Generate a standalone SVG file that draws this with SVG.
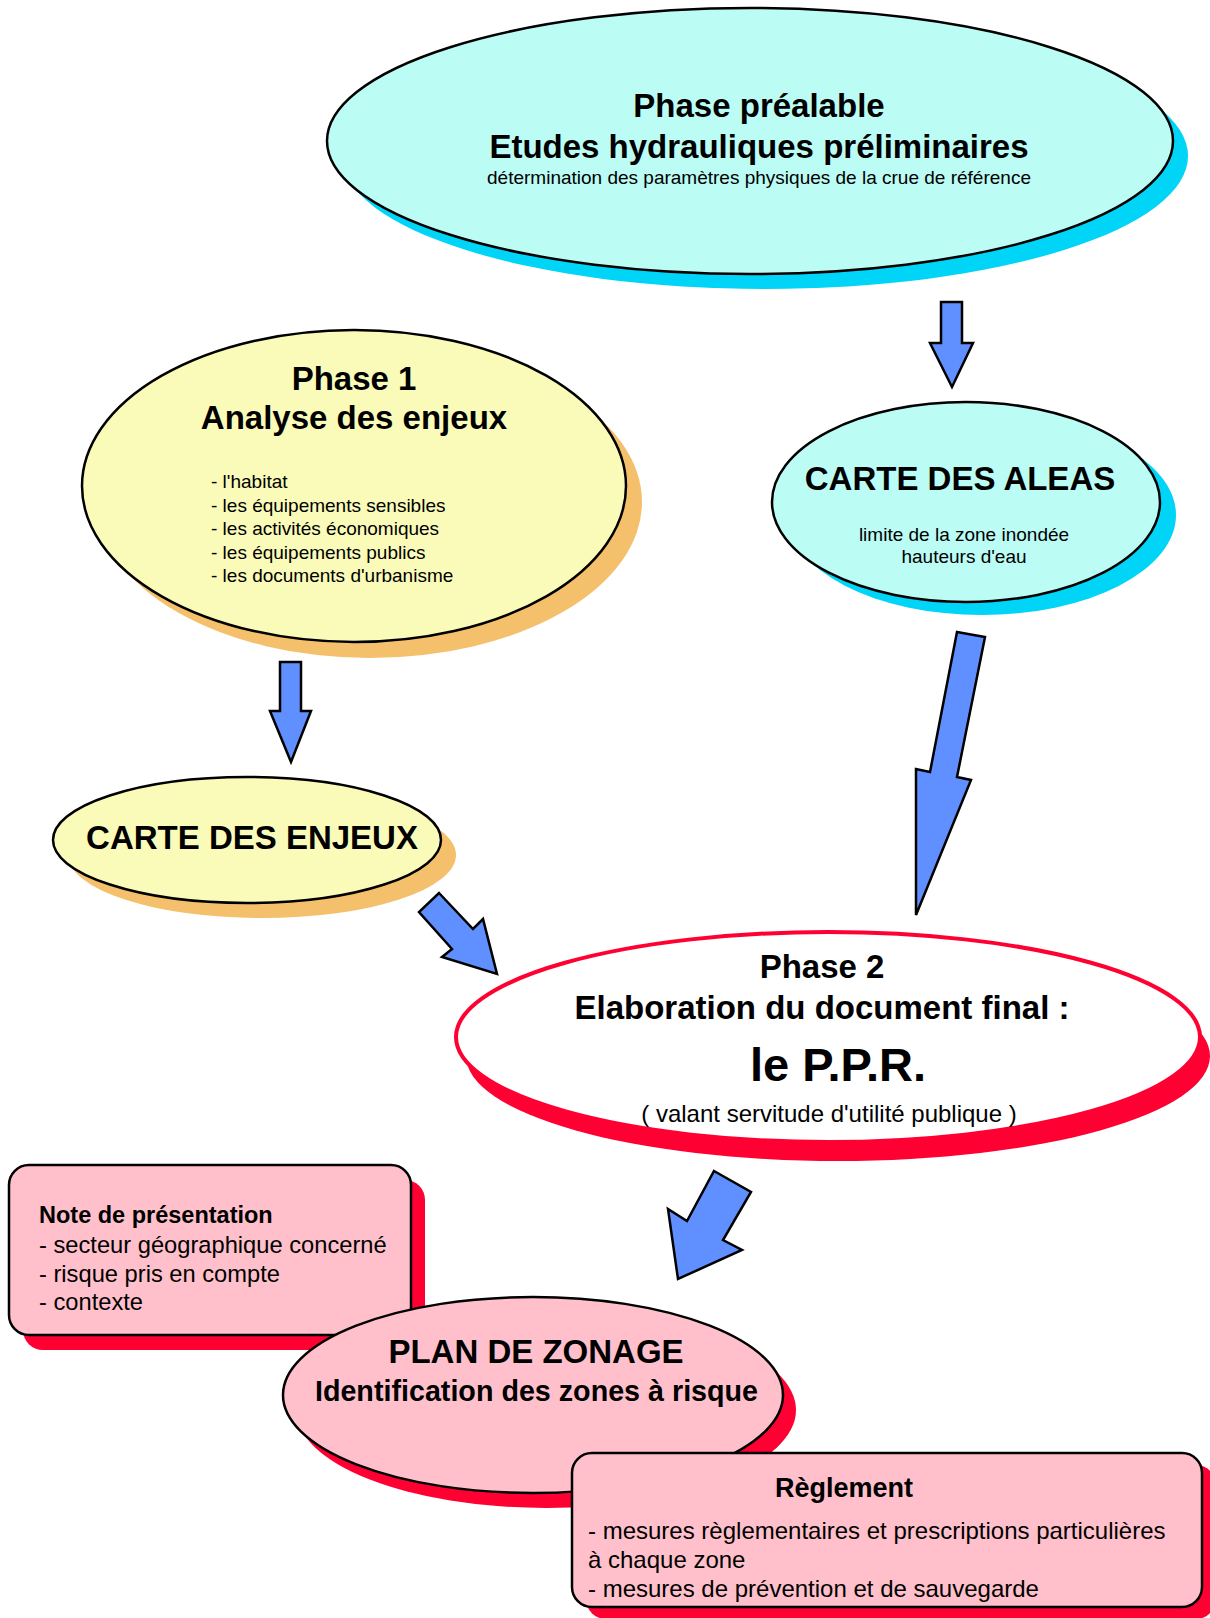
<svg xmlns="http://www.w3.org/2000/svg" width="1210" height="1618" viewBox="0 0 1210 1618">
<style>
.t{font-family:"Liberation Sans",Arial,sans-serif;fill:#000}
.b{font-weight:bold}
.c{text-anchor:middle}
.out{stroke:#000;stroke-width:2.5}
.cyan{fill:#BBFCF5}
.cyanS{fill:#00D4F7}
.yel{fill:#FAFBB9}
.yelS{fill:#F5C06B}
.pink{fill:#FFC0CB}
.redS{fill:#FF0033}
.arrow{fill:#6090FF;stroke:#000;stroke-width:2.5;stroke-linejoin:miter}
</style>
<rect width="1210" height="1618" fill="#fff"/>

<g id="phase-prealable">
<ellipse class="cyanS" cx="765" cy="156" rx="423" ry="133"/>
<ellipse class="cyan out" cx="750" cy="141" rx="423" ry="133"/>
<text class="t b c" x="759" y="117" font-size="33">Phase préalable</text>
<text class="t b c" x="759" y="158" font-size="33">Etudes hydrauliques préliminaires</text>
<text class="t c" x="759" y="184" font-size="19">détermination des paramètres physiques de la crue de référence</text>
</g>

<g id="phase1">
<ellipse class="yelS" cx="370" cy="502" rx="272" ry="156"/>
<ellipse class="yel out" cx="354" cy="486" rx="272" ry="156"/>
<text class="t b c" x="354" y="390" font-size="33">Phase 1</text>
<text class="t b c" x="354" y="429" font-size="33">Analyse des enjeux</text>
<text class="t" x="211" font-size="19"><tspan x="211" y="488">- l'habitat</tspan><tspan x="211" y="511.5">- les équipements sensibles</tspan><tspan x="211" y="535">- les activités économiques</tspan><tspan x="211" y="558.5">- les équipements publics</tspan><tspan x="211" y="582">- les documents d'urbanisme</tspan></text>
</g>

<g id="carte-aleas">
<ellipse class="cyanS" cx="982" cy="515" rx="194" ry="100"/>
<ellipse class="cyan out" cx="966" cy="502" rx="194" ry="100"/>
<text class="t b c" x="960" y="490" font-size="33">CARTE DES ALEAS</text>
<text class="t c" x="964" y="541" font-size="19">limite de la zone inondée</text>
<text class="t c" x="964" y="563" font-size="19">hauteurs d'eau</text>
</g>

<g id="carte-enjeux">
<ellipse class="yelS" cx="262" cy="855" rx="194" ry="63"/>
<ellipse class="yel out" cx="247" cy="840" rx="194" ry="63"/>
<text class="t b c" x="252" y="849" font-size="33">CARTE DES ENJEUX</text>
</g>

<g id="phase2">
<ellipse class="redS" cx="838" cy="1056" rx="372" ry="105"/>
<ellipse cx="828" cy="1037" rx="372" ry="105" fill="#fff" stroke="#FF0033" stroke-width="4"/>
<text class="t b c" x="822" y="978" font-size="33">Phase 2</text>
<text class="t b c" x="822" y="1019" font-size="33">Elaboration du document final :</text>
<text class="t b c" x="838" y="1081" font-size="47">le P.P.R.</text>
<text class="t c" x="829" y="1122" font-size="24">( valant servitude d'utilité publique )</text>
</g>

<g id="note-presentation">
<rect class="redS" x="23" y="1180" width="402" height="170" rx="20"/>
<rect class="pink out" x="9" y="1165" width="402" height="170" rx="20"/>
<text class="t b" x="39" y="1223" font-size="23.5">Note de présentation</text>
<text class="t" font-size="23.7"><tspan x="39" y="1253">- secteur géographique concerné</tspan><tspan x="39" y="1282">- risque pris en compte</tspan><tspan x="39" y="1310">- contexte</tspan></text>
</g>

<g id="plan-zonage">
<ellipse class="redS" cx="546" cy="1410" rx="250" ry="98"/>
<ellipse class="pink out" cx="533" cy="1395" rx="250" ry="98"/>
<text class="t b c" x="536" y="1363" font-size="33">PLAN DE ZONAGE</text>
<text class="t b c" x="536.5" y="1401" font-size="28.7">Identification des zones à risque</text>
</g>

<g id="reglement">
<rect class="redS" x="586" y="1465" width="630" height="154" rx="20"/>
<rect class="pink out" x="572" y="1453" width="630" height="154" rx="20"/>
<text class="t b c" x="844" y="1497" font-size="27">Règlement</text>
<text class="t" font-size="24"><tspan x="588" y="1539">- mesures règlementaires et prescriptions particulières</tspan><tspan x="588" y="1568">à chaque zone</tspan><tspan x="588" y="1597">- mesures de prévention et de sauvegarde</tspan></text>
</g>

<g id="connectors">
<polygon class="arrow" points="941,302 962,302 962,343 973,343 952,387 930,343 941,343"/>
<polygon class="arrow" points="280,662 301,662 301,711 311,711 291,762 270,711 280,711"/>
<polygon class="arrow" points="439,893 473,929 483,919 497,974 442,957 452,949 419,912"/>
<polygon class="arrow" points="957,632 985,637 957,777 971,780 916,915 916,769 930,772"/>
<polygon class="arrow" points="714,1171 751,1192 723,1240 742,1250 678,1279 668,1209 687,1221"/>
</g>
</svg>
